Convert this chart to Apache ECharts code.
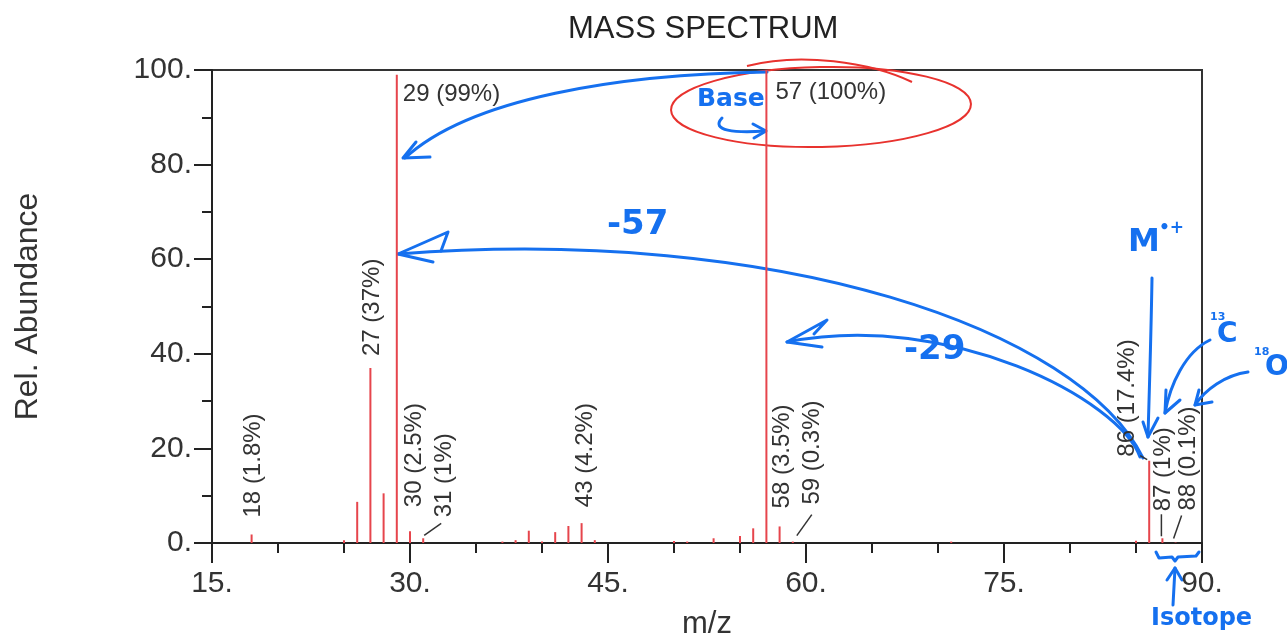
<!DOCTYPE html>
<html>
<head>
<meta charset="utf-8">
<script src="https://cdn.jsdelivr.net/npm/echarts@6/dist/echarts.min.js"></script>
<style>
  html, body { margin: 0; padding: 0; background: #fff; }
  #chart { width: 1287px; height: 641px; }
</style>
</head>
<body>
<div id="chart"></div>
<script>
  // peaks (m/z, relative abundance %)
  var mz = [18, 25, 26, 27, 28, 29, 30, 31, 37, 38, 39, 40, 41, 42, 43, 44, 50, 51, 53, 55, 56, 57, 58, 59, 71, 85, 86, 87, 88]
  var abundance = [1.8, 0.6, 8.7, 37, 10.5, 99, 2.5, 1, 0.3, 0.6, 2.6, 0.3, 2.3, 3.6, 4.2, 0.6, 0.4, 0.3, 1.0, 1.5, 3.1, 100, 3.5, 0.3, 0.3, 0.5, 17.4, 1, 0.1]
  // peaks that carry a label
  var labeledMz = [18, 27, 29, 30, 31, 43, 57, 58, 59, 86, 87, 88]
  var xTicks = [15, 30, 45, 60, 75, 90]
  var yTicks = [0, 20, 40, 60, 80, 100]

  var FONT = "'Liberation Sans', Arial, sans-serif"
  var RED = "#e6454c"
  var BLUE = "#1570ef"

  // label placement relative to the peak top (pixels), kept apart from the data
  var labelLayout = {
    18: { dx: 2, dy: -17 },
    27: { dx: 2, dy: -12 },
    29: { flat: true, dx: 6, dy: 20 },
    30: { dx: 4, dy: -24 },
    31: { dx: 21, dy: -21, leader: [1, -3, 18, -15] },
    43: { dx: 4, dy: -16 },
    57: { flat: true, dx: 9, dy: 22 },
    58: { dx: 3, dy: -18 },
    59: { dx: 20, dy: -37, leader: [4, -6, 19, -27] },
    86: { dx: -22, dy: -4, leader: [-2, -1, -9, -5] },
    87: { dx: 1, dy: -27, leader: [-1, -2, -1, -24] },
    88: { dx: 13, dy: -32, leader: [-2, -4, 6, -27] }
  }

  var chart = echarts.init(document.getElementById("chart"))

  var peakData = mz.map(function (m, i) { return [m, abundance[i]] })
  var labelData = labeledMz.map(function (m) { return [m, abundance[mz.indexOf(m)]] })

  function pen(shape, type, extra) {
    var el = { type: type || "bezierCurve", shape: shape, silent: true,
      style: { stroke: BLUE, fill: null, lineWidth: 3, lineCap: "round", lineJoin: "round" } }
    return Object.assign(el, extra || {})
  }
  function hand(text, x, y, size) {
    return { type: "text", x: x, y: y, silent: true,
      style: { text: text, fill: BLUE, font: "bold " + size + "px 'DejaVu Sans', sans-serif", verticalAlign: "middle" } }
  }

  var option = {
    backgroundColor: "#fff",
    animation: false,
    title: {
      text: "MASS SPECTRUM",
      left: 563,
      top: 9,
      textStyle: { fontSize: 31, fontWeight: "normal", color: "#222", fontFamily: FONT }
    },
    grid: {
      left: 212, right: 85, top: 70, bottom: 98,
      show: true, borderColor: "#333", borderWidth: 2,
      outerBoundsMode: "none"
    },
    xAxis: {
      type: "value",
      min: xTicks[0], max: xTicks[xTicks.length - 1], interval: 15,
      name: "m/z", nameLocation: "middle", nameGap: 66,
      nameTextStyle: { fontSize: 31, color: "#333", fontFamily: FONT },
      axisLine: { lineStyle: { color: "#222", width: 2 } },
      axisTick: { length: 20, lineStyle: { color: "#222", width: 2 } },
      minorTick: { show: true, splitNumber: 3, length: 10, lineStyle: { color: "#222", width: 2 } },
      splitLine: { show: false },
      axisLabel: { formatter: function (v) { return v + "." }, fontSize: 30, margin: 26, color: "#333", fontFamily: FONT }
    },
    yAxis: {
      type: "value",
      min: yTicks[0], max: yTicks[yTicks.length - 1], interval: 20,
      name: "Rel. Abundance", nameLocation: "middle", nameGap: 168,
      nameTextStyle: { fontSize: 32, color: "#333", fontFamily: FONT },
      axisLine: { show: true, lineStyle: { color: "#222", width: 2 } },
      axisTick: { show: true, length: 18, lineStyle: { color: "#222", width: 2 } },
      minorTick: { show: true, splitNumber: 2, length: 10, lineStyle: { color: "#222", width: 2 } },
      splitLine: { show: false },
      axisLabel: { formatter: function (v) { return v + "." }, fontSize: 30, margin: 20, color: "#333", fontFamily: FONT }
    },
    series: [
      {
        // the sticks
        type: "custom",
        data: peakData,
        renderItem: function (params, api) {
          var top = api.coord([api.value(0), api.value(1)])
          var base = api.coord([api.value(0), 0])
          return {
            type: "line",
            shape: { x1: base[0], y1: base[1], x2: top[0], y2: top[1] },
            style: { stroke: RED, lineWidth: 2 }
          }
        },
        z: 2
      },
      {
        // peak labels
        type: "custom",
        data: labelData,
        renderItem: function (params, api) {
          var m = api.value(0)
          var v = api.value(1)
          var p = api.coord([m, v])
          var lay = labelLayout[m]
          var children = [{
            type: "text",
            x: p[0] + lay.dx,
            y: p[1] + lay.dy,
            rotation: lay.flat ? 0 : Math.PI / 2,
            style: {
              text: m + " (" + v + "%)",
              fill: "#333",
              font: "24px " + FONT,
              align: "left",
              verticalAlign: "middle"
            }
          }]
          if (lay.leader) {
            var l = lay.leader
            children.push({
              type: "line",
              shape: { x1: p[0] + l[0], y1: p[1] + l[1], x2: p[0] + l[2], y2: p[1] + l[3] },
              style: { stroke: "#333", lineWidth: 1.5 }
            })
          }
          return { type: "group", children: children }
        },
        z: 3
      }
    ],
    graphic: [
      // red circle round the base peak label
      { type: "ellipse", silent: true, rotation: 0.02, originX: 821, originY: 107,
        shape: { cx: 821, cy: 107, rx: 150, ry: 40 },
        style: { stroke: "#e8322e", fill: null, lineWidth: 2 } },
      { type: "bezierCurve", silent: true,
        shape: { x1: 747, y1: 66, cpx1: 800, cpy1: 52, cpx2: 870, cpy2: 62, x2: 912, y2: 82 },
        style: { stroke: "#e8322e", fill: null, lineWidth: 2 } },
      // 57 -> 29
      pen({ x1: 767, y1: 72, cpx1: 620, cpy1: 74, cpx2: 470, cpy2: 98, x2: 405, y2: 158 }),
      pen({ points: [[416, 142], [403, 158], [430, 157]] }, "polyline"),
      hand("Base", 697, 99, 25),
      pen({ x1: 722, y1: 118, cpx1: 710, cpy1: 131, cpx2: 735, cpy2: 133, x2: 765, y2: 131 }),
      pen({ points: [[753, 124], [766, 131], [754, 138]] }, "polyline"),
      // -57
      pen({ x1: 1143, y1: 458, cpx1: 1080, cpy1: 330, cpx2: 780, cpy2: 225, x2: 398, y2: 254 }),
      pen({ points: [[441, 251], [448, 232], [398, 254], [433, 262]] }, "polyline"),
      hand("-57", 607, 225, 34),
      // -29
      pen({ x1: 1140, y1: 457, cpx1: 1120, cpy1: 400, cpx2: 950, cpy2: 310, x2: 787, y2: 342 }),
      pen({ points: [[814, 334], [827, 320], [787, 342], [822, 347]] }, "polyline"),
      hand("-29", 904, 350, 34),
      // molecular ion
      hand("M", 1128, 243, 32),
      hand("\u2022+", 1159, 229, 17),
      pen({ x1: 1152, y1: 278, cpx1: 1151, cpy1: 340, cpx2: 1149, cpy2: 400, x2: 1148, y2: 437 }),
      pen({ points: [[1143, 422], [1148, 437], [1158, 418]] }, "polyline"),
      // 13C and 18O
      hand("13", 1210, 317, 11),
      hand("C", 1217, 335, 28),
      pen({ x1: 1210, y1: 340, cpx1: 1185, cpy1: 352, cpx2: 1170, cpy2: 385, x2: 1165, y2: 413 }),
      pen({ points: [[1166, 390], [1165, 413], [1180, 400]] }, "polyline"),
      hand("18", 1254, 352, 11),
      hand("O", 1265, 368, 28),
      pen({ x1: 1248, y1: 372, cpx1: 1225, cpy1: 375, cpx2: 1205, cpy2: 390, x2: 1195, y2: 405 }),
      pen({ points: [[1199, 390], [1195, 405], [1212, 402]] }, "polyline"),
      // isotope bracket
      pen({ points: [[1156, 552], [1159, 558], [1172, 557], [1175, 561], [1178, 557], [1196, 556], [1199, 552]] }, "polyline"),
      pen({ x1: 1173, y1: 605, x2: 1175, y2: 568 }, "line"),
      pen({ points: [[1167, 580], [1175, 568], [1182, 580]] }, "polyline"),
      hand("Isotope", 1151, 619, 24)
    ]
  }

  chart.setOption(option)
</script>
</body>
</html>
